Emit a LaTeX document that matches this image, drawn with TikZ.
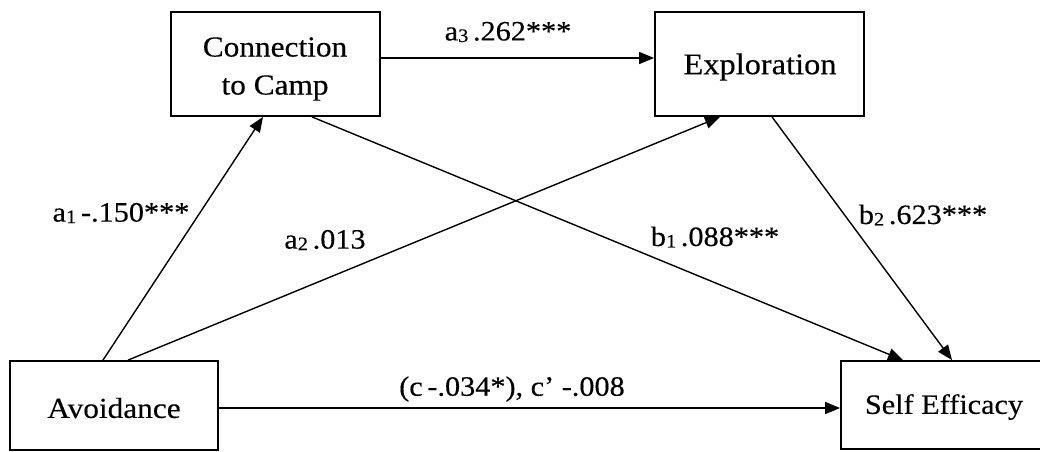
\documentclass[tikz,border=0pt]{standalone}
\usepackage{fontspec}
\setmainfont[FakeStretch=1.08,FakeBold=0.3]{Liberation Serif}
\usetikzlibrary{arrows.meta}
\newcommand{\sub}[1]{{\fontsize{19}{19}\selectfont\raisebox{-1.5pt}{#1}}}
\begin{document}
\begin{tikzpicture}[x=1pt,y=-1pt,
  varbox/.style={draw,line width=1.8pt,rectangle,inner sep=0pt},
  vartext/.style={inner sep=0pt,align=center,font=\fontsize{29}{38}\selectfont},
  path/.style={line width=1.4pt,-{Triangle[length=15pt,width=12pt]}},
  coef/.style={inner sep=0pt,font=\fontsize{28}{30}\selectfont}]
\useasboundingbox (0,0) rectangle (1040,451);

% variable boxes
\node[varbox,minimum width=209pt,minimum height=104pt] (conn) at (275.5,64) {};
\node[varbox,minimum width=209pt,minimum height=104pt] (expl) at (759.5,64) {};
\node[varbox,minimum width=208pt,minimum height=89pt] (avoid) at (114,405.5) {};
\node[varbox,minimum width=204pt,minimum height=88pt] (self) at (943,405) {};

% variable names
\node[vartext] (conntxt) at (275,69) {Connection\\to Camp};
\node[vartext,font=\fontsize{30}{38}\selectfont] (expltxt) at (760,67) {Exploration};
\node[vartext] (avoidtxt) at (114,408) {Avoidance};
\node[vartext,font=\fontsize{28}{38}\selectfont] (selftxt) at (944,407) {Self Efficacy};

% paths
\draw[path] ([yshift=6pt]conn.east) -- ([yshift=6pt]expl.west);
\draw[path] ([xshift=-11pt]avoid.north) -- ([xshift=-12.5pt]conn.south);
\draw[path] ([xshift=14pt]avoid.north) -- ([xshift=-39.5pt]expl.south);
\draw[path] ([xshift=36.5pt]conn.south) -- ([xshift=-40pt]self.north);
\draw[path] ([xshift=12.5pt]expl.south) -- ([xshift=9pt]self.north);
\draw[path] ([yshift=-2.5pt]avoid.east) -- ([yshift=-3pt]self.west);

% coefficients
\node[coef] (la3) at (508,32) {a\sub{3}\,.262***};
\node[coef] (la1) at (121,213) {a\sub{1}\,-.150***};
\node[coef] (la2) at (325,240) {a\sub{2}\,.013};
\node[coef] (lb1) at (715,237) {b\sub{1}\,.088***};
\node[coef] (lb2) at (923,215) {b\sub{2}\,.623***};
\node[coef] (lc) at (512,389) {(c\,-.034*), c’ -.008};
\end{tikzpicture}
\end{document}
